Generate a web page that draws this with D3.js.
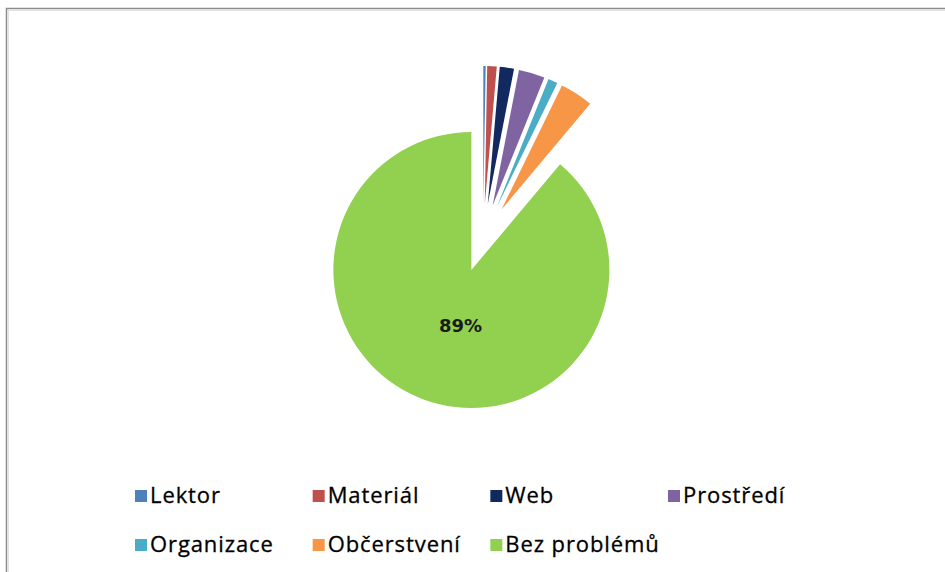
<!DOCTYPE html>
<html>
<head>
<meta charset="utf-8">
<script src="https://cdn.jsdelivr.net/npm/d3@7/dist/d3.min.js"></script>
<style>
  html, body { margin: 0; padding: 0; background: #ffffff; }
  svg { display: block; }
</style>
</head>
<body>
<svg id="chart" width="945" height="572"></svg>
<script>
// ---- data ----
const categories = ["Lektor", "Materiál", "Web", "Prostředí", "Organizace", "Občerstvení", "Bez problémů"];
const counts = [1, 4, 6, 11, 4, 14, 320];
const colors = ["#4F81BD", "#C0504D", "#12295F", "#8064A2", "#4BACC6", "#F79646", "#92D050"];
const labelShown = [false, false, false, false, false, false, true];

// ---- layout ----
const W = 945, H = 572;
const cx = 483, cy = 238;      // pie centre before explosion
const R = 138;                 // radius
const explode = 34;            // explosion distance of every slice

const svg = d3.select("#chart");

// chart frame (top and left edges visible)
svg.append("rect")
  .attr("x", 6.5).attr("y", 8.5)
  .attr("width", W + 20).attr("height", H + 20)
  .attr("fill", "none").attr("stroke", "#8c8c8c").attr("stroke-width", 1.5);
svg.append("rect")
  .attr("x", 8.5).attr("y", 10.5)
  .attr("width", W + 20).attr("height", H + 20)
  .attr("fill", "none").attr("stroke", "#e2e2e2").attr("stroke-width", 1);

const data = categories.map((c, i) => ({ name: c, value: counts[i], color: colors[i], showLabel: labelShown[i] }));
const total = d3.sum(counts);

const pie = d3.pie().value(d => d.value).sort(null).startAngle(0).endAngle(2 * Math.PI);
const arcs = pie(data);
const arc = d3.arc().innerRadius(0).outerRadius(R);

const g = svg.append("g").attr("transform", `translate(${cx},${cy})`);

function offset(a, dist) {
  const m = (a.startAngle + a.endAngle) / 2;
  return [Math.sin(m) * dist, -Math.cos(m) * dist];
}

g.selectAll("path.slice")
  .data(arcs)
  .join("path")
  .attr("class", "slice")
  .attr("d", arc)
  .attr("fill", d => d.data.color)
  .attr("transform", d => { const [dx, dy] = offset(d, explode); return `translate(${dx},${dy})`; });

// percentage label
const fmt = d3.format(".0%");
g.selectAll("text.pct")
  .data(arcs.filter(d => d.data.showLabel))
  .join("text")
  .attr("class", "pct")
  .attr("transform", d => {
    const [ex, ey] = offset(d, explode);
    const [lx, ly] = offset(d, R * 0.42);
    return `translate(${ex + lx + 9},${ey + ly + 1})`;
  })
  .attr("text-anchor", "middle")
  .attr("dominant-baseline", "central")
  .attr("font-family", "DejaVu Sans, sans-serif")
  .attr("font-weight", "bold")
  .attr("font-size", 18)
  .attr("fill", "#1a1a1a")
  .text(d => fmt(d.data.value / total));

// legend
const legendX = d3.scalePoint().domain([0, 1, 2, 3]).range([135, 668]);
const legendY = d3.scalePoint().domain([0, 1]).range([490, 539]);
const leg = svg.append("g").attr("class", "legend");
const items = leg.selectAll("g.item")
  .data(data)
  .join("g")
  .attr("class", "item")
  .attr("transform", (d, i) => `translate(${legendX(i % 4)},${legendY(Math.floor(i / 4))})`);
items.append("rect")
  .attr("width", 12).attr("height", 12)
  .attr("fill", d => d.color);
items.append("text")
  .attr("x", 15).attr("y", 12.5)
  .attr("font-family", "'Open Sans', sans-serif")
  .attr("font-size", 22)
  .attr("letter-spacing", 0.9)
  .attr("fill", "#000000")
  .attr("stroke", "#000000")
  .attr("stroke-width", 0.3)
  .text(d => d.name);
</script>
</body>
</html>
